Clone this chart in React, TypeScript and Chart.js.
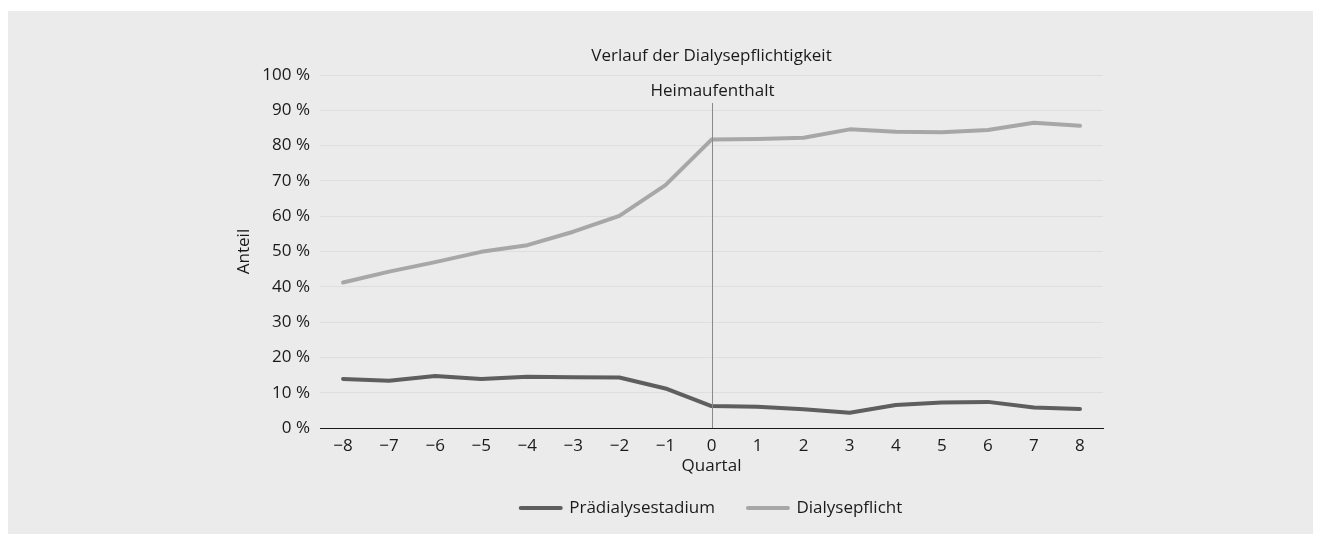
import React, { useEffect, useRef } from "react";
import { Chart, registerables } from "chart.js";

Chart.register(...registerables);

const quarters = ["−8", "−7", "−6", "−5", "−4", "−3", "−2", "−1", "0", "1", "2", "3", "4", "5", "6", "7", "8"];
const praedialyse = [13.9, 13.4, 14.7, 13.9, 14.5, 14.4, 14.3, 11.2, 6.2, 6.0, 5.3, 4.3, 6.5, 7.2, 7.4, 5.8, 5.4];
const dialysepflicht = [41.2, 44.3, 47.0, 49.9, 51.8, 55.6, 60.1, 68.8, 81.7, 81.9, 82.2, 84.6, 83.9, 83.8, 84.4, 86.5, 85.6];
const seriesNames = ["Prädialysestadium", "Dialysepflicht"];
const markerIndex = 8;
const markerLabel = "Heimaufenthalt";

const FONT = "'Open Sans', 'Noto Sans', sans-serif";
const TEXT = "#1a1a1a";

const markerPlugin = {
  id: "marker",
  afterDatasetsDraw(chart: any) {
    const { ctx, chartArea, scales } = chart;
    const x = Math.round(scales.x.getPixelForValue(markerIndex)) + 0.5;
    ctx.save();
    ctx.strokeStyle = "#8a8a8a";
    ctx.lineWidth = 1;
    ctx.beginPath();
    ctx.moveTo(x, 92);
    ctx.lineTo(x, chartArea.bottom);
    ctx.stroke();
    ctx.fillStyle = TEXT;
    ctx.font = `17px ${FONT}`;
    ctx.textAlign = "center";
    ctx.textBaseline = "middle";
    ctx.fillText(markerLabel, x, 80);
    ctx.restore();
  },
};

export default function App() {
  const ref = useRef<HTMLCanvasElement>(null);
  useEffect(() => {
    if (!ref.current) return;
    const chart = new Chart(ref.current, {
      type: "line",
      data: {
        labels: quarters,
        datasets: [
          {
            label: seriesNames[0],
            data: praedialyse,
            borderColor: "#5e5e5e",
            backgroundColor: "#5e5e5e",
            borderWidth: 4,
            borderCapStyle: "round",
            borderJoinStyle: "round",
            pointRadius: 0,
            tension: 0,
          },
          {
            label: seriesNames[1],
            data: dialysepflicht,
            borderColor: "#a7a7a7",
            backgroundColor: "#a7a7a7",
            borderWidth: 4,
            borderCapStyle: "round",
            borderJoinStyle: "round",
            pointRadius: 0,
            tension: 0,
          },
        ],
      },
      options: {
        responsive: false,
        animation: false,
        layout: { padding: { left: 226, right: 210, top: 0, bottom: 7.5 } },
        font: { family: FONT, size: 17 },
        color: TEXT,
        plugins: {
          title: {
            display: true,
            text: "Verlauf der Dialysepflichtigkeit",
            fullSize: false,
            color: TEXT,
            font: { family: FONT, size: 17, weight: "normal" },
            padding: { top: 35, bottom: 8.6 },
          },
          legend: {
            position: "bottom",
            fullSize: false,
            labels: {
              usePointStyle: true,
              pointStyleWidth: 40,
              padding: 33,
              color: TEXT,
              font: { family: FONT, size: 17 },
              generateLabels: (c: any) =>
                c.data.datasets.map((ds: any, i: number) => ({
                  text: ds.label,
                  fillStyle: ds.borderColor,
                  strokeStyle: ds.borderColor,
                  lineWidth: 4,
                  lineCap: "round",
                  pointStyle: "line",
                  hidden: false,
                  datasetIndex: i,
                  fontColor: TEXT,
                })),
            },
          },
          tooltip: { enabled: false },
        },
        scales: {
          x: {
            offset: true,
            grid: { display: false, drawTicks: false, offset: true },
            border: { display: true, color: "#1a1a1a", width: 1 },
            ticks: { color: TEXT, padding: 8, font: { family: FONT, size: 17 }, maxRotation: 0 },
            title: {
              display: true,
              text: "Quartal",
              color: TEXT,
              font: { family: FONT, size: 17 },
              padding: { top: 0, bottom: -10.3 },
            },
            afterFit: (s: any) => {
              s.height = 38.5;
            },
          },
          y: {
            min: 0,
            max: 100,
            grid: { color: "#dedede", lineWidth: 1, drawTicks: false },
            border: { display: false },
            ticks: {
              stepSize: 10,
              padding: 10,
              color: TEXT,
              font: { family: FONT, size: 17 },
              callback: (v: any) => `${v} %`,
            },
            title: {
              display: true,
              text: "Anteil",
              color: TEXT,
              font: { family: FONT, size: 17 },
              padding: { top: 0, bottom: 0 },
            },
            afterFit: (s: any) => {
              s.width = 86;
            },
          },
        },
      },
      plugins: [markerPlugin],
    } as any);
    return () => chart.destroy();
  }, []);

  return (
    <div style={{ paddingTop: 3 }}>
      <div style={{ width: 1305, height: 523, background: "#ebebeb" }}>
        <canvas ref={ref} width={1305} height={523} style={{ display: "block" }} />
      </div>
    </div>
  );
}
